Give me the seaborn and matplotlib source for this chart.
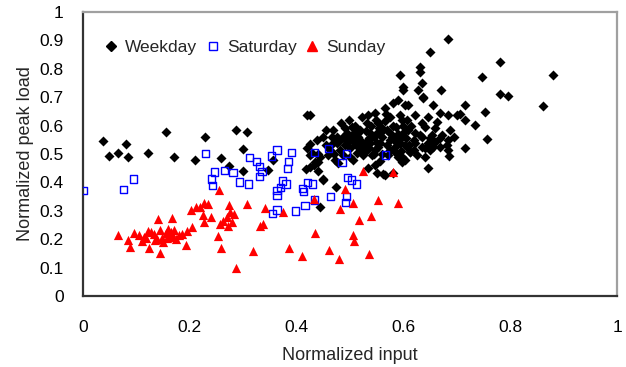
import matplotlib
matplotlib.use("Agg")
import matplotlib.pyplot as plt
from matplotlib.lines import Line2D
import seaborn as sns

weekday_x = [0.037, 0.048, 0.065, 0.081, 0.085, 0.122, 0.155, 0.170, 0.210, 0.229, 0.259, 0.273,
             0.287, 0.307, 0.299, 0.299, 0.419, 0.426, 0.441, 0.425, 0.347, 0.355, 0.449, 0.474,
             0.444, 0.562, 0.581, 0.612,
             0.484, 0.503, 0.469, 0.466, 0.475, 0.487, 0.503, 0.519, 0.531, 0.534, 0.547, 0.566,
             0.581, 0.590, 0.603, 0.575, 0.594, 0.606, 0.553, 0.537, 0.550, 0.569, 0.587, 0.600,
             0.519, 0.537, 0.556, 0.575, 0.594, 0.606, 0.450, 0.438, 0.462, 0.481, 0.500, 0.513,
             0.528, 0.547, 0.575, 0.590, 0.603, 0.425, 0.434, 0.444, 0.472, 0.506, 0.534, 0.547,
             0.566, 0.550, 0.450, 0.425, 0.600,
             0.628, 0.637, 0.609, 0.656, 0.715, 0.669, 0.684, 0.700, 0.715, 0.734, 0.662, 0.647,
             0.622, 0.634, 0.597, 0.687, 0.672, 0.653, 0.634, 0.622, 0.609, 0.684, 0.659, 0.647,
             0.622, 0.603, 0.669, 0.684, 0.715, 0.650, 0.634, 0.612, 0.597, 0.640, 0.597, 0.647,
             0.584, 0.587,
             0.683, 0.650, 0.780, 0.881, 0.747, 0.632, 0.632, 0.594, 0.599, 0.635, 0.670, 0.636,
             0.780, 0.795, 0.862, 0.753, 0.706, 0.757, 0.686, 0.669, 0.681, 0.656, 0.640, 0.631,
             0.619, 0.490, 0.515, 0.540, 0.560, 0.495, 0.525, 0.545, 0.510, 0.480, 0.530,
             0.455, 0.470, 0.480, 0.490, 0.495, 0.505, 0.510, 0.515, 0.520, 0.525, 0.530, 0.535,
             0.540, 0.545, 0.550, 0.555, 0.560, 0.560, 0.565, 0.570, 0.575, 0.580, 0.585, 0.590,
             0.595, 0.600, 0.605, 0.610, 0.615, 0.620, 0.458, 0.468, 0.478, 0.500, 0.512, 0.528,
             0.542, 0.556, 0.572, 0.586, 0.498, 0.522, 0.548, 0.568, 0.455, 0.660, 0.650, 0.695,
             0.640, 0.625, 0.420, 0.428, 0.440, 0.432, 0.418, 0.440, 0.492, 0.508, 0.536, 0.562,
             0.578, 0.596, 0.476, 0.486, 0.518, 0.552]
weekday_y = [0.547, 0.494, 0.505, 0.534, 0.489, 0.505, 0.579, 0.489, 0.480, 0.560, 0.485, 0.459,
             0.585, 0.579, 0.518, 0.439, 0.636, 0.534, 0.473, 0.455, 0.444, 0.479, 0.411, 0.385,
             0.314, 0.430, 0.434, 0.508,
             0.608, 0.596, 0.585, 0.561, 0.538, 0.561, 0.561, 0.585, 0.608, 0.637, 0.643, 0.661,
             0.679, 0.690, 0.673, 0.631, 0.637, 0.620, 0.608, 0.573, 0.573, 0.585, 0.596, 0.573,
             0.538, 0.538, 0.538, 0.549, 0.538, 0.526, 0.561, 0.549, 0.514, 0.514, 0.520, 0.502,
             0.508, 0.514, 0.514, 0.490, 0.479, 0.496, 0.473, 0.490, 0.479, 0.479, 0.450, 0.461,
             0.426, 0.432, 0.408, 0.637, 0.725,
             0.725, 0.700, 0.673, 0.673, 0.673, 0.645, 0.637, 0.637, 0.620, 0.602, 0.614, 0.631,
             0.637, 0.608, 0.620, 0.585, 0.567, 0.567, 0.561, 0.573, 0.585, 0.549, 0.543, 0.538,
             0.538, 0.532, 0.526, 0.514, 0.520, 0.514, 0.526, 0.508, 0.490, 0.490, 0.473, 0.450,
             0.526, 0.561,
             0.904, 0.860, 0.824, 0.777, 0.771, 0.807, 0.790, 0.778, 0.735, 0.749, 0.724, 0.696,
             0.712, 0.704, 0.668, 0.649, 0.640, 0.552, 0.493, 0.555, 0.532, 0.526, 0.596, 0.567,
             0.549, 0.590, 0.575, 0.555, 0.590, 0.540, 0.530, 0.500, 0.540, 0.550, 0.525,
             0.530, 0.500, 0.545, 0.530, 0.575, 0.545, 0.600, 0.560, 0.520, 0.495, 0.580, 0.520,
             0.600, 0.560, 0.540, 0.590, 0.560, 0.500, 0.615, 0.530, 0.575, 0.600, 0.545, 0.570,
             0.510, 0.600, 0.555, 0.530, 0.600, 0.515, 0.495, 0.540, 0.470, 0.490, 0.530, 0.540,
             0.495, 0.475, 0.495, 0.505, 0.620, 0.630, 0.620, 0.640, 0.585, 0.590, 0.555, 0.560,
             0.520, 0.495, 0.520, 0.505, 0.500, 0.460, 0.448, 0.440, 0.550, 0.575, 0.555, 0.585,
             0.560, 0.555, 0.560, 0.495, 0.550, 0.525]

saturday_x = [0.000, 0.076, 0.094, 0.230, 0.246, 0.241, 0.243, 0.265, 0.281, 0.293, 0.310, 0.312,
              0.325, 0.330, 0.335, 0.331, 0.353, 0.363, 0.390, 0.385, 0.383, 0.434, 0.460, 0.494,
              0.485, 0.567, 0.373, 0.370, 0.380, 0.363, 0.363, 0.411, 0.413, 0.420, 0.430, 0.434,
              0.463, 0.416, 0.398, 0.363, 0.355, 0.495, 0.503, 0.512, 0.494, 0.492]
saturday_y = [0.371, 0.376, 0.412, 0.502, 0.437, 0.412, 0.388, 0.441, 0.436, 0.402, 0.394, 0.487,
              0.473, 0.455, 0.438, 0.420, 0.493, 0.514, 0.506, 0.473, 0.450, 0.506, 0.520, 0.502,
              0.469, 0.496, 0.405, 0.383, 0.394, 0.371, 0.353, 0.379, 0.367, 0.400, 0.394, 0.338,
              0.351, 0.318, 0.299, 0.303, 0.290, 0.417, 0.408, 0.394, 0.350, 0.329]

sunday_x = [0.065, 0.085, 0.088, 0.095, 0.115, 0.122, 0.124, 0.133, 0.138, 0.140, 0.144, 0.145,
            0.150, 0.155, 0.160, 0.163, 0.167, 0.171, 0.179, 0.192, 0.194, 0.204, 0.202, 0.212,
            0.220, 0.227, 0.235, 0.224, 0.227, 0.240, 0.252, 0.255, 0.259, 0.257, 0.269, 0.274,
            0.275, 0.279, 0.287, 0.307, 0.318, 0.331, 0.341, 0.374, 0.337, 0.386, 0.411, 0.434,
            0.433, 0.461, 0.480, 0.481, 0.491, 0.506, 0.516, 0.506, 0.508, 0.524, 0.540, 0.536,
            0.553, 0.581, 0.590, 0.118, 0.135, 0.158, 0.169, 0.262, 0.283, 0.272,
            0.105, 0.128, 0.148, 0.165, 0.185, 0.110, 0.175]
sunday_y = [0.215, 0.197, 0.174, 0.221, 0.209, 0.230, 0.169, 0.218, 0.200, 0.270, 0.232, 0.150,
            0.191, 0.223, 0.235, 0.211, 0.274, 0.232, 0.215, 0.179, 0.230, 0.244, 0.303, 0.312,
            0.314, 0.326, 0.324, 0.285, 0.261, 0.277, 0.211, 0.373, 0.170, 0.254, 0.279, 0.320,
            0.297, 0.262, 0.098, 0.324, 0.160, 0.246, 0.311, 0.297, 0.254, 0.170, 0.142, 0.221,
            0.342, 0.163, 0.131, 0.305, 0.376, 0.329, 0.268, 0.215, 0.195, 0.441, 0.282, 0.149,
            0.338, 0.438, 0.329, 0.203, 0.197, 0.203, 0.209, 0.265, 0.290, 0.245,
            0.215, 0.225, 0.205, 0.225, 0.220, 0.195, 0.200]

x_ticks = [0, 0.2, 0.4, 0.6, 0.8, 1]
x_tick_labels = ["0", "0.2", "0.4", "0.6", "0.8", "1"]
y_ticks = [0, 0.1, 0.2, 0.3, 0.4, 0.5, 0.6, 0.7, 0.8, 0.9, 1]
y_tick_labels = ["0", "0.1", "0.2", "0.3", "0.4", "0.5", "0.6", "0.7", "0.8", "0.9", "1"]

sns.set_style("white")
plt.rcParams['font.family'] = ['Liberation Sans', 'DejaVu Sans']

fig = plt.figure(figsize=(6.26, 3.67), dpi=100)
ax = fig.add_axes([83/626, (367-296)/367, (617-83)/626, (296-12)/367])

sns.scatterplot(x=weekday_x, y=weekday_y, ax=ax, marker='D', s=26, color='black',
                edgecolor='black', linewidth=0, zorder=3)
sns.scatterplot(x=saturday_x, y=saturday_y, ax=ax, marker='s', s=28, color='#0000ff',
                edgecolor='#0000ff', linewidth=1.0, zorder=4)
ax.collections[-1].set_facecolor('none')
sns.scatterplot(x=sunday_x, y=sunday_y, ax=ax, marker='^', s=44, color='#ff0000',
                edgecolor='#ff0000', linewidth=0, zorder=5)

ax.set_xlim(0, 1)
ax.set_ylim(0, 1)
ax.set_xticks(x_ticks)
ax.set_xticklabels(x_tick_labels)
ax.set_yticks(y_ticks)
ax.set_yticklabels(y_tick_labels)
ax.tick_params(axis='both', direction='in', length=5, width=1, colors='#333333',
               labelcolor='black', labelsize=12.5)
ax.tick_params(axis='y', pad=14)
ax.tick_params(axis='x', pad=17)

for side in ['left', 'bottom']:
    ax.spines[side].set_color('#333333')
    ax.spines[side].set_linewidth(1.6)
for side in ['top', 'right']:
    ax.spines[side].set_visible(True)
    ax.spines[side].set_color('#a0a0a0')
    ax.spines[side].set_linewidth(1.6)

ax.set_xlabel("Normalized input", fontsize=13, labelpad=9)
ax.set_ylabel("Normalized peak load", fontsize=13, labelpad=4)

handles = [
    Line2D([], [], marker='D', linestyle='none', color='black', markersize=5),
    Line2D([], [], marker='s', linestyle='none', markerfacecolor='none',
           markeredgecolor='#0000ff', markersize=5.5, markeredgewidth=1.0),
    Line2D([], [], marker='^', linestyle='none', color='#ff0000', markersize=6.5),
]
ax.legend(handles, ["Weekday", "Saturday", "Sunday"], ncol=3, frameon=False,
          loc='upper left', bbox_to_anchor=(0.03, 0.925), fontsize=12.5,
          handlelength=0.6, handletextpad=0.5, columnspacing=0.6, borderaxespad=0)

fig.savefig("out.png", dpi=100)
